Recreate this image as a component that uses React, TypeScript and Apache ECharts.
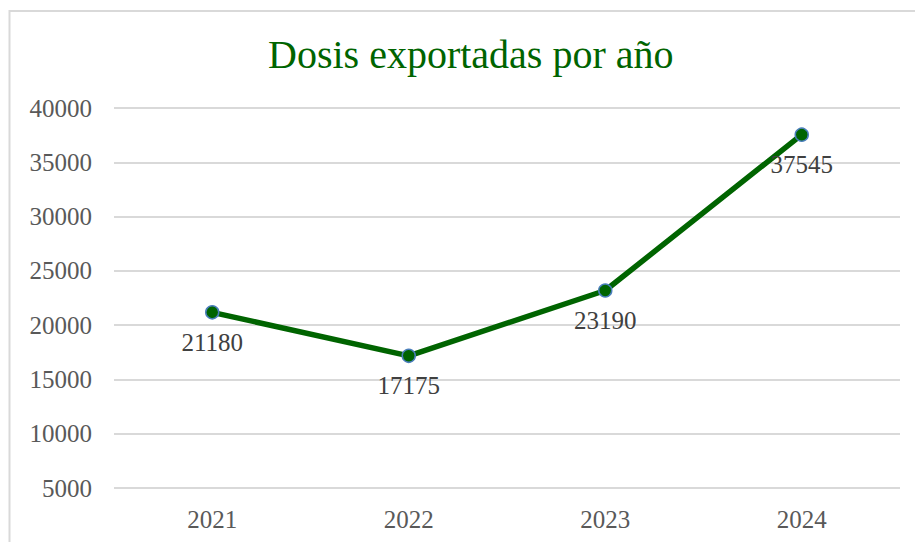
import React, { useEffect, useRef } from "react";
import * as echarts from "echarts";

const categories = ["2021", "2022", "2023", "2024"];
const dosis = [21180, 17175, 23190, 37545];
const titleText = "Dosis exportadas por año";

export default function App() {
  const ref = useRef<HTMLDivElement>(null);
  useEffect(() => {
    if (!ref.current) return;
    const chart = echarts.init(ref.current, undefined, { renderer: "svg" });
    const font = "'Liberation Serif', 'Times New Roman', serif";
    chart.setOption({
      animation: false,
      backgroundColor: "#ffffff",
      title: {
        text: titleText,
        left: 268,
        top: 34,
        padding: 0,
        textStyle: { fontFamily: font, fontSize: 40, fontWeight: "normal", color: "#006400" },
      },
      graphic: [
        {
          type: "rect",
          shape: { x: 9.5, y: 11, width: 2000, height: 2000 },
          style: { fill: "transparent", stroke: "#d9d9d9", lineWidth: 2 },
          silent: true,
        },
      ],
      grid: { left: 114, right: 15, top: 108, bottom: 54, containLabel: false },
      xAxis: {
        type: "category",
        data: categories,
        boundaryGap: true,
        axisLine: { show: false },
        axisTick: { show: false },
        axisLabel: { fontFamily: font, fontSize: 25, color: "#595959", margin: 19 },
      },
      yAxis: {
        type: "value",
        min: 5000,
        max: 40000,
        interval: 5000,
        axisLine: { show: false },
        axisTick: { show: false },
        splitLine: { lineStyle: { color: "#d9d9d9", width: 2 } },
        axisLabel: {
          fontFamily: font,
          fontSize: 25,
          color: "#595959",
          margin: 22,
          formatter: (v: number) => String(v),
        },
      },
      series: [
        {
          type: "line",
          data: dosis,
          symbol: "circle",
          symbolSize: 13,
          lineStyle: { color: "#006400", width: 5.5 },
          itemStyle: { color: "#006400", borderColor: "#4a7ebb", borderWidth: 1.5 },
          label: {
            show: true,
            position: "bottom",
            distance: 10,
            fontFamily: font,
            fontSize: 25,
            color: "#404040",
          },
        },
      ],
    });
    return () => chart.dispose();
  }, []);
  return (
    <div
      ref={ref}
      style={{ position: "absolute", left: 0, top: 0, width: 915, height: 542 }}
    />
  );
}
